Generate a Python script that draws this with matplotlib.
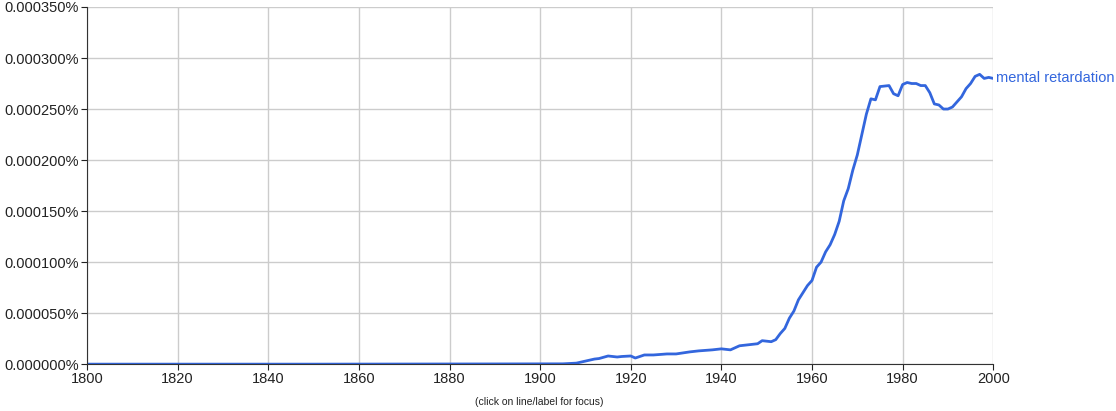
import matplotlib
matplotlib.use("Agg")
import matplotlib.pyplot as plt
from matplotlib.ticker import FuncFormatter

plt.rcParams['font.family'] = ['Liberation Sans', 'DejaVu Sans']

years = [1800, 1850, 1890, 1905, 1908, 1910, 1912, 1913, 1915, 1917, 1918, 1920, 1921, 1923, 1925, 1928, 1930, 1933, 1935, 1938, 1940, 1942, 1944, 1946, 1948, 1949, 1951, 1952, 1953,
         1954, 1955, 1956, 1957, 1958, 1959, 1960, 1961, 1962, 1963, 1964, 1965, 1966, 1967, 1968, 1969,
         1970, 1971, 1972, 1973, 1974, 1975, 1977, 1978, 1979, 1980, 1981, 1982, 1983, 1984, 1985, 1986,
         1987, 1988, 1989, 1990, 1991, 1992, 1993, 1994, 1995, 1996, 1997, 1998, 1999, 2000]
values = [0, 0, 0.0000002, 0.0000003, 0.000001, 0.000003, 0.000005, 0.0000055, 0.000008, 0.000007, 0.0000075, 0.000008, 0.000006, 0.000009,
          0.000009, 0.00001, 0.00001, 0.000012, 0.000013, 0.000014, 0.000015, 0.000014, 0.000018, 0.000019,
          0.00002, 0.000023, 0.000022, 0.000024, 0.00003, 0.000035, 0.000045, 0.000052, 0.000063, 0.00007,
          0.000077, 0.000082, 0.000095, 0.0001, 0.00011, 0.000117, 0.000127, 0.00014, 0.00016, 0.000172,
          0.00019, 0.000205, 0.000225, 0.000245, 0.00026, 0.000259, 0.000272, 0.000273, 0.000265, 0.000263,
          0.000274, 0.000276, 0.000275, 0.000275, 0.000273, 0.000273, 0.000266, 0.000255, 0.000254, 0.00025,
          0.00025, 0.000252, 0.000257, 0.000262, 0.00027, 0.000275, 0.000282, 0.000284, 0.00028, 0.000281, 0.00028]
label = "mental retardation"

fig = plt.figure(figsize=(11.16, 4.11), dpi=100)
ax = fig.add_axes([0.078, 0.114, 0.812, 0.869])
color = "#3366dd"
ax.plot(years, values, color=color, lw=2)
ax.set_xlim(1800, 2000)
ax.set_ylim(0, 0.00035)
ax.set_xticks(range(1800, 2001, 20))
ax.set_yticks([i * 0.00005 for i in range(8)])
ax.yaxis.set_major_formatter(FuncFormatter(lambda v, p: f"{v:.6f}%"))
ax.grid(True, color="#cccccc", lw=1)
for s in ["top", "right"]:
    ax.spines[s].set_visible(False)
ax.spines["left"].set_color("#333333")
ax.spines["bottom"].set_color("#333333")
ax.tick_params(labelsize=10.5, colors="#222222", length=4, pad=2)
ax.text(2000.5, values[-1], label, color=color, fontsize=10.5, va="center", ha="left", clip_on=False)
fig.text(0.483, 0.015, "(click on line/label for focus)", fontsize=7.5, ha="center", color="#222222")
fig.savefig("out.png", dpi=100)
